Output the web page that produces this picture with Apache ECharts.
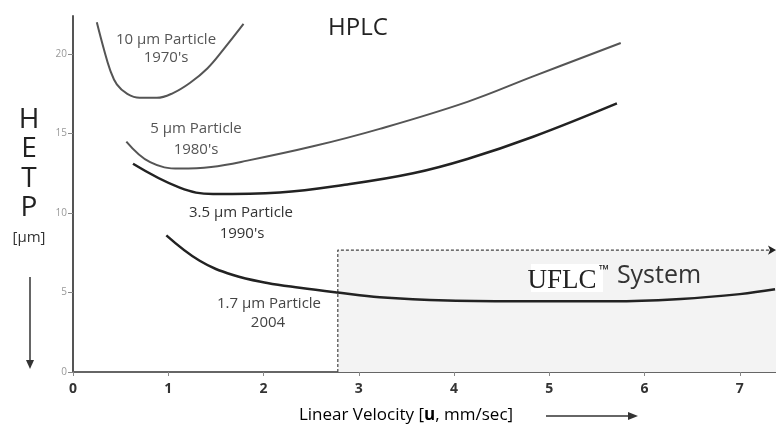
<!DOCTYPE html>
<html><head><meta charset="utf-8">
<script src="https://cdn.jsdelivr.net/npm/echarts@6/dist/echarts.min.js"></script>
<style>html,body{margin:0;padding:0;background:#fff}#c{width:776px;height:430px}</style>
</head><body><div id="c"></div>
<script>
// Linear velocity u (mm/sec), HETP (µm)
const particle10 = [[0.25,22.0],[0.32,20.4],[0.39,19.0],[0.46,18.1],[0.57,17.5],[0.70,17.25],[0.88,17.25],[1.05,17.55],[1.23,18.2],[1.41,19.1],[1.58,20.3],[1.79,21.9]];
const particle5 = [[0.56,14.5],[0.81,13.2],[1.12,12.8],[1.45,12.9],[1.83,13.3],[2.52,14.2],[3.22,15.3],[4.14,17.0],[4.83,18.6],[5.75,20.7]];
const particle35 = [[0.63,13.1],[1.12,11.6],[1.47,11.2],[2.17,11.3],[2.88,11.8],[3.57,12.5],[4.14,13.4],[4.83,14.8],[5.71,16.9]];
const particle17 = [[0.98,8.6],[1.33,7.0],[1.68,6.1],[2.04,5.6],[2.38,5.3],[2.78,5.0],[3.22,4.7],[3.93,4.5],[4.8,4.45],[5.67,4.45],[6.38,4.6],[7.0,4.9],[7.37,5.2]];
const uflcStart = 2.78, uflcHetp = 7.67, uMax = 7.38, hetpMax = 22.4;
const xTicks = ['0','1','2','3','4','5','6','7'];
const yTicks = ['0','5','10','15','20'];

const chart = echarts.init(document.getElementById('c'));
const F = '"Open Sans", "Liberation Sans", sans-serif';
function txt(text,x,y,size,color,weight,family){
  return {type:'text', x:x, y:y, z:100, style:{text:text, align:'center', verticalAlign:'middle',
    fontSize:size, fontFamily:family||F, fontWeight:weight||'normal', fill:color}};
}
const curve = (name, data, color, w) => ({
  name, type:'line', data, smooth:0.4, symbol:'none', z:5,
  lineStyle:{color, width:w}
});
chart.setOption({
  animation:false,
  backgroundColor:'#fff',
  grid:{left:73, right:0, top:16, bottom:58, outerBoundsMode:'none'},
  xAxis:{type:'value', min:0, max:uMax, interval:1,
    axisLine:{lineStyle:{color:'#666', width:2}},
    axisTick:{show:true, length:4, lineStyle:{color:'#888'}},
    splitLine:{show:false},
    axisLabel:{showMaxLabel:false, margin:10, fontSize:14, fontWeight:'bold', color:'#333', fontFamily:F,
      formatter:(v)=>xTicks[Math.round(v)] ?? ''}
  },
  yAxis:{type:'value', min:0, max:hetpMax, interval:5,
    axisLine:{show:true, lineStyle:{color:'#555', width:2}},
    axisTick:{show:true, length:5, lineStyle:{color:'#888'}},
    splitLine:{show:false},
    axisLabel:{showMaxLabel:false, margin:6, fontSize:10, color:'#999', fontFamily:F,
      formatter:(v)=>yTicks[Math.round(v/5)] ?? ''}
  },
  series:[
    {name:'UFLC', type:'line', z:2, symbol:'none',
      data:[[uflcStart,0],[uflcStart,uflcHetp],{value:[uMax,uflcHetp], symbol:'arrow', symbolSize:[7,8], symbolRotate:-90, itemStyle:{color:'#222'}}],
      lineStyle:{color:'#444', width:1.2, type:[3,2]},
      markArea:{silent:true, itemStyle:{color:'#f3f3f3'}, data:[[{coord:[uflcStart,0]},{coord:[uMax,uflcHetp]}]]}
    },
    curve('10 µm', particle10, '#555', 2),
    curve('5 µm', particle5, '#555', 2),
    curve('3.5 µm', particle35, '#222', 2.5),
    curve('1.7 µm', particle17, '#222', 2.5)
  ],
  graphic:[
    txt('10 µm Particle',166,40,15,'#555'),
    txt("1970's",166,58,15,'#555'),
    txt('HPLC',358,28,24,'#222'),
    txt('5 µm Particle',196,129,15,'#555'),
    txt("1980's",196,150,15,'#555'),
    txt('3.5 µm Particle',241,213,15,'#333'),
    txt("1990's",242,234,15,'#333'),
    txt('1.7 µm Particle',269,304,15,'#444'),
    txt('2004',268,323,15,'#444'),
    {type:'rect', shape:{x:531,y:264,width:72,height:28}, style:{fill:'#fff'}, z:50},
    txt('UFLC',562,281,27,'#222','normal','"Liberation Serif", serif'),
    txt('™',604,270,13,'#222','bold'),
    txt('System',659,276,25,'#333'),
    txt('H',29,120,28,'#222'),
    txt('E',29,149,28,'#222'),
    txt('T',29,179,28,'#222'),
    txt('P',29,208,28,'#222'),
    txt('[µm]',29,238,15,'#333'),
    {type:'line', shape:{x1:30,y1:277,x2:30,y2:362}, style:{stroke:'#333', lineWidth:1.5}, z:100},
    {type:'polygon', shape:{points:[[26,360],[34,360],[30,369]]}, style:{fill:'#333'}, z:100},
    {type:'text', x:406, y:415, z:100, style:{
      text:'{n|Linear Velocity [}{b|u}{n|, mm/sec]}', align:'center', verticalAlign:'middle',
      rich:{n:{fontSize:17, fontFamily:F, color:'#333'}, b:{fontSize:17, fontFamily:F, fontWeight:'bold', color:'#222'}}
    }},
    {type:'line', shape:{x1:546,y1:416,x2:630,y2:416}, style:{stroke:'#333', lineWidth:1.5}, z:100},
    {type:'polygon', shape:{points:[[628,412],[628,420],[638,416]]}, style:{fill:'#333'}, z:100}
  ]
});
</script></body></html>
